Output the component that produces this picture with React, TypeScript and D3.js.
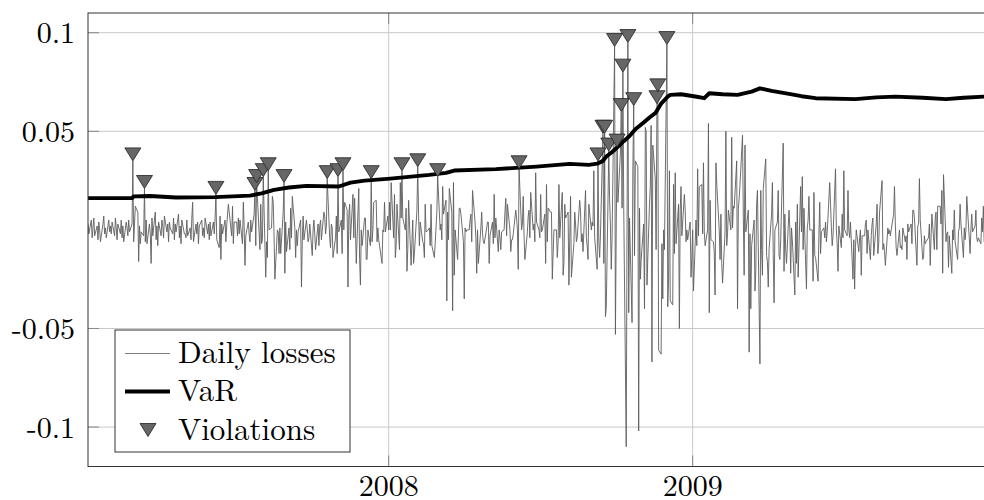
import React, { useEffect, useRef } from 'react';
import * as d3 from 'd3';

// Daily losses (negative log returns), in thousandths, one value per weekday from 4 Jan 2007.
const losses2007: number[] = [
    3, -2, 5, -4, 1, 6, -3, 2, -5, 4, 0, -6, 3, 7, -2, 1, -4, 5, -1, 2, // Jan
    -2, 4, -3, 6, 1, -5, 3, -2, 5, -4, 2, -6, 4, 1, -3, 5, -1, 3, 35, -6, // Feb
    3, 12, 9, -16, 2, -7, -1, -3, 21, -6, 5, -7, 3, -2, -17, 6, -3, 9, -5, 2, -8, 4, // Mar
    -3, 5, 2, -4, 7, -1, 3, -6, 4, 1, -2, 6, -5, 3, -1, 8, -4, 2, -7, 5, -2, // Apr
    -2, -4, 5, -3, 1, -5, 6, 14, -6, 3, -2, 4, -7, 2, 5, -3, 1, -4, 6, -2, 3, -5, 4, // May
    -3, 4, -2, 6, 18, -5, -9, 7, -15, 3, -2, 5, -6, 2, 8, 13, 1, -3, 12, -7, 4, // Jun
    4, -3, 6, -2, 5, -7, 14, 2, -18, -3, 4, -2, -6, 5, -1, 8, 20, -8, 24, 16, -10, 13, // Jul
    -7, -5, 27, -24, -6, -14, 30, 0, 1, 17, 14, -3, -25, 0, -1, -12, 1, -12, 9, 24, -22, 4, -11, // Aug
    1, -10, 11, -4, 17, 1, -14, 0, -8, -1, 5, -29, -6, 7, -5, 5, 0, -6, -4, 3, // Sep
    -13, 0, 5, -2, -10, 3, -8, 2, 5, -5, 9, 7, -2, 2, 26, -4, -9, 3, 1, -14, -4, 7, -12, // Oct
    27, -1, 5, -12, 30, 0, 14, 10, -29, 7, 13, -5, 18, -4, 16, 0, -17, 21, -15, -28, 0, -8, // Nov
    6, 6, -15, -15, 0, -8, 26, -6, 0, 14, 15, -6, 1, -5, -8, -17, 0, -1, 14, -1, 7 // Dec
];
const losses2008: number[] = [
    0, 14, 0, 24, -4, 18, -14, -8, 13, -10, 24, 6, 30, 6, 0, 11, -21, -10, 15, -18, -6, 5, -17, // Jan
    -12, 10, 32, 8, -8, 4, -6, -7, -14, 13, -1, 0, 1, -8, 13, -8, -14, -7, 1, 9, 27, // Feb
    0, 3, -5, 22, 8, 15, -36, 9, -5, 21, 9, -41, 24, -23, 0, -15, -2, 11, 11, 8, -6, // Mar
    -35, 1, -1, 0, 0, 5, 8, -6, 20, 4, -4, -22, 0, -17, 1, 9, -2, -6, -7, 1, 4, 4, // Apr
    -17, -3, 4, -7, 18, -4, 6, -11, 0, -4, -10, -1, 0, 9, 16, -3, 13, 0, -11, -5, -5, -2, // May
    10, 6, 0, -20, 31, 0, 3, 17, -3, -15, -1, 7, 10, -4, 19, 0, 3, -6, 29, 4, 0, // Jun
    -4, 18, -1, 0, 8, -17, 23, -6, 11, 9, 9, -25, -12, 0, 0, -14, -6, 23, -4, 19, -23, -17, 13, // Jul
    6, 9, -28, -4, 17, -24, -7, 9, 3, -6, -4, 15, 9, -6, -2, -11, 20, -4, -8, -15, 13, // Aug
    0, 4, 2, 30, -4, -20, 35, -6, -14, -2, 49, -17, 49, -44, -39, 40, 16, 2, -20, -3, 93, -53, // Sep
    3, 42, 14, 39, 60, 11, 80, 12, -110, 5, 95, -42, 6, -47, 31, 63, -13, 35, 32, -102, 11, -25, -15, // Oct
    3, -40, 52, 50, -28, 13, 22, 53, -67, 43, 26, -10, 64, 70, -61, -63, -7, -35, 0, -10, // Nov
    94, -39, -25, 30, -36, -38, 23, -12, 29, -7, 13, -50, 10, 22, -3, 18, 10, -6, 0, -5, 4, -24, -14 // Dec
];
const losses2009: number[] = [
    0, -31, 5, -8, 31, -3, 22, 23, -2, 34, -1, -8, 0, 54, -42, 15, -5, -6, -11, -33, 34, 23, // Jan
    0, -15, 8, -17, -27, -1, 50, -8, -2, 10, 0, 47, 1, 12, 11, 35, -40, 11, 16, 23, // Feb
    48, 6, -23, 43, -1, 10, -62, -2, -40, -8, 5, -31, -21, 13, 20, -68, 20, -10, -23, 21, 36, -13, // Mar
    -16, -29, -10, 8, 24, -12, -37, 0, 4, 20, -13, -15, -5, 44, -21, 8, -10, -17, 10, 1, -22, 1, // Apr
    -5, -33, 4, -17, 13, -24, 22, -1, 27, -10, 11, -30, 1, 5, 17, 0, 0, -26, 19, -13, -14, // May
    -26, -2, 14, -12, -1, 1, -4, 4, -6, -1, 24, 13, 1, -8, -3, 31, 0, -7, -21, 2, -9, 8, // Jun
    -4, 30, 0, -3, 20, 0, -4, 4, -25, -5, -30, -9, 0, -11, -4, 0, -23, -3, -3, 3, 5, -12, 0, // Jul
    -15, -3, 3, 6, -13, 3, 13, -12, -7, 9, 25, -10, -7, -11, -18, 1, -2, 0, -3, 0, 8, // Aug
    22, 3, -9, -13, 0, -9, -8, -10, 1, -6, -3, -15, 3, -1, 3, -7, 10, 10, 6, -18, 2, 3, // Sep
    26, 5, -15, -14, -3, -7, -6, -4, 3, -18, -4, 8, -10, 6, 9, -10, 12, 12, 3, 20, -22, 28, // Oct
    -6, -2, -1, -19, -3, -22, 0, -5, 10, -6, -15, -1, 1, 13, 3, -14, 1, -5, 0, 17, -4, // Nov
    -12, 0, 8, -1, 2, 10, -4, -6, -4, -7, 6, -1, 12, -6, -10, -4, -2, -5, 0, -1, 1, 0, 10 // Dec
];
const lossStart = '2007-01-04';
const lossEnd = '2009-12-31';

// VaR estimate, in thousandths
const varDates = [
    '2007-01-04', '2007-02-26', '2007-02-28', '2007-03-20', '2007-04-20', '2007-06-06', '2007-07-18',
    '2007-08-01', '2007-08-16', '2007-09-03', '2007-09-24', '2007-11-02', '2007-11-16', '2007-12-03',
    '2008-01-03', '2008-02-19', '2008-03-10', '2008-03-20', '2008-05-09', '2008-06-27', '2008-08-06',
    '2008-08-29', '2008-09-08', '2008-09-15', '2008-09-19', '2008-09-26', '2008-10-02', '2008-10-10',
    '2008-10-17', '2008-10-24', '2008-11-03', '2008-11-10', '2008-11-17', '2008-11-24', '2008-12-02',
    '2008-12-05', '2008-12-18', '2009-01-06', '2009-01-15', '2009-01-21', '2009-02-06', '2009-02-24',
    '2009-03-13', '2009-03-23', '2009-04-06', '2009-04-27', '2009-05-12', '2009-05-29', '2009-07-16',
    '2009-08-10', '2009-09-02', '2009-10-05', '2009-11-02', '2009-11-23', '2009-12-18', '2009-12-31'
];
const varValues = [
    16.1, 16.1, 17.0, 17.2, 16.4, 16.6, 17.4, 18.5, 20.3, 21.5, 22.3, 22.0, 24.0, 25.0,
    26.0, 27.9, 28.9, 30.1, 30.8, 32.1, 33.5, 33.0, 33.6, 35.0, 37.2, 39.5, 41.8, 45.0,
    47.6, 51.0, 54.5, 57.0, 59.2, 64.0, 67.6, 68.5, 68.8, 67.5, 66.8, 69.3, 68.8, 68.5,
    70.1, 71.8, 70.5, 69.0, 67.8, 66.8, 66.3, 67.2, 67.6, 67.0, 66.3, 67.0, 67.6, 67.8
];

// days on which the loss exceeded the VaR
const violationDates = [
    '2007-02-27', '2007-03-13', '2007-06-07', '2007-07-24', '2007-07-26', '2007-08-03', '2007-08-09',
    '2007-08-28', '2007-10-19', '2007-11-01', '2007-11-07', '2007-12-11', '2008-01-17', '2008-02-05',
    '2008-02-29', '2008-06-06', '2008-09-09', '2008-09-15', '2008-09-17', '2008-09-22', '2008-09-29',
    '2008-10-02', '2008-10-07', '2008-10-09', '2008-10-15', '2008-10-22', '2008-11-19', '2008-11-20',
    '2008-12-01'
];

const yTicks = [0.1, 0.05, -0.05, -0.1];
const yTickLabels = ['0.1', '0.05', '-0.05', '-0.1'];
const xTicks = ['2008-01-01', '2009-01-01'];
const xTickLabels = ['2008', '2009'];
const legendLabels = ['Daily losses', 'VaR', 'Violations'];

const parseDay = d3.utcParse('%Y-%m-%d');
const dayKey = d3.utcFormat('%Y-%m-%d');

export default function App() {
    const svgRef = useRef<SVGSVGElement>(null);

    useEffect(() => {
        if (!svgRef.current) return;
        const svg = d3.select(svgRef.current);
        svg.selectAll('*').remove();

        const left = 88;
        const right = 995; // frame runs past the right edge of the picture
        const top = 13;
        const bottom = 466.5;

        const start = parseDay(lossStart)!;
        const end = parseDay(lossEnd)!;

        const x = d3.scaleUtc().domain([start, end]).range([left, right]);
        const y = d3.scaleLinear().domain([-0.12, 0.11]).range([bottom, top]);

        // one loss per weekday
        const allLosses = [...losses2007, ...losses2008, ...losses2009];
        const weekdays = d3.utcDay
            .range(start, d3.utcDay.offset(end, 1))
            .filter((d: Date) => d.getUTCDay() !== 0 && d.getUTCDay() !== 6);
        const lossPoints = weekdays
            .slice(0, allLosses.length)
            .map((d: Date, i: number) => ({ date: d, value: allLosses[i] / 1000 }));
        const lossByDay = new Map(lossPoints.map(p => [dayKey(p.date), p.value]));

        const varPoints = varDates.map((d, i) => ({ date: parseDay(d)!, value: varValues[i] / 1000 }));
        const violations = violationDates
            .filter(d => lossByDay.has(d))
            .map(d => ({ date: parseDay(d)!, value: lossByDay.get(d)! }));

        svg.append('defs').append('clipPath')
            .attr('id', 'plot-clip')
            .append('rect')
            .attr('x', left)
            .attr('y', top)
            .attr('width', right - left)
            .attr('height', bottom - top);

        // grid
        const grid = svg.append('g').attr('stroke', '#c9c9c9').attr('stroke-width', 1);
        yTicks.forEach(t => {
            grid.append('line')
                .attr('x1', left).attr('x2', right)
                .attr('y1', y(t)).attr('y2', y(t));
        });
        xTicks.forEach(t => {
            const px = x(parseDay(t)!);
            grid.append('line')
                .attr('x1', px).attr('x2', px)
                .attr('y1', top).attr('y2', bottom);
        });

        // tick marks, inside the frame
        const ticks = svg.append('g').attr('stroke', '#888').attr('stroke-width', 1);
        yTicks.forEach(t => {
            ticks.append('line')
                .attr('x1', left).attr('x2', left + 11)
                .attr('y1', y(t)).attr('y2', y(t));
        });
        xTicks.forEach(t => {
            const px = x(parseDay(t)!);
            ticks.append('line').attr('x1', px).attr('x2', px).attr('y1', bottom).attr('y2', bottom - 11);
            ticks.append('line').attr('x1', px).attr('x2', px).attr('y1', top).attr('y2', top + 11);
        });

        const plot = svg.append('g').attr('clip-path', 'url(#plot-clip)');

        const line = d3.line<{ date: Date; value: number }>()
            .x(d => x(d.date))
            .y(d => y(d.value));

        plot.append('path')
            .datum(lossPoints)
            .attr('d', line)
            .attr('fill', 'none')
            .attr('stroke', '#5e5e5e')
            .attr('stroke-width', 0.9)
            .attr('stroke-linejoin', 'round');

        plot.append('path')
            .datum(varPoints)
            .attr('d', line)
            .attr('fill', 'none')
            .attr('stroke', '#000')
            .attr('stroke-width', 3.9)
            .attr('stroke-linejoin', 'round');

        // triangles sit on top of the loss spike, tip at the value
        const triangle = (cx: number, tipY: number) =>
            `M${cx - 8},${tipY - 13}L${cx + 8},${tipY - 13}L${cx},${tipY}Z`;

        plot.selectAll('path.violation')
            .data(violations)
            .enter()
            .append('path')
            .attr('class', 'violation')
            .attr('d', d => triangle(x(d.date), y(d.value)))
            .attr('fill', '#666')
            .attr('stroke', '#222')
            .attr('stroke-width', 0.8);

        // frame
        svg.append('rect')
            .attr('x', left)
            .attr('y', top)
            .attr('width', right - left)
            .attr('height', bottom - top)
            .attr('fill', 'none')
            .attr('stroke', '#333')
            .attr('stroke-width', 1);

        const font = "'Latin Modern Roman', 'CMU Serif', 'Liberation Serif', serif";

        yTicks.forEach((t, i) => {
            svg.append('text')
                .attr('x', 75)
                .attr('y', y(t) + 10.5)
                .attr('text-anchor', 'end')
                .attr('font-family', font)
                .attr('font-size', 30)
                .attr('fill', '#000')
                .text(yTickLabels[i]);
        });
        xTicks.forEach((t, i) => {
            svg.append('text')
                .attr('x', x(parseDay(t)!))
                .attr('y', 496)
                .attr('text-anchor', 'middle')
                .attr('font-family', font)
                .attr('font-size', 30)
                .attr('fill', '#000')
                .text(xTickLabels[i]);
        });

        // legend
        const legend = svg.append('g');
        legend.append('rect')
            .attr('x', 115)
            .attr('y', 330)
            .attr('width', 235)
            .attr('height', 122)
            .attr('fill', '#fff')
            .attr('stroke', '#333')
            .attr('stroke-width', 1);

        const rowY = [353.5, 391.5, 430];
        legend.append('line')
            .attr('x1', 125).attr('x2', 170)
            .attr('y1', rowY[0]).attr('y2', rowY[0])
            .attr('stroke', '#6e6e6e').attr('stroke-width', 0.9);
        legend.append('line')
            .attr('x1', 125).attr('x2', 170)
            .attr('y1', rowY[1]).attr('y2', rowY[1])
            .attr('stroke', '#000').attr('stroke-width', 3.9);
        legend.append('path')
            .attr('d', triangle(148, rowY[2] + 6.5))
            .attr('fill', '#666')
            .attr('stroke', '#222')
            .attr('stroke-width', 0.8);

        legendLabels.forEach((label, i) => {
            legend.append('text')
                .attr('x', 178)
                .attr('y', rowY[i] + 9.5)
                .attr('font-family', font)
                .attr('font-size', 31)
                .attr('fill', '#000')
                .text(label);
        });
    }, []);

    return (
        <div style={{ position: 'absolute', left: 0, top: 0 }}>
            <svg ref={svgRef} width={984} height={500}></svg>
        </div>
    );
}
